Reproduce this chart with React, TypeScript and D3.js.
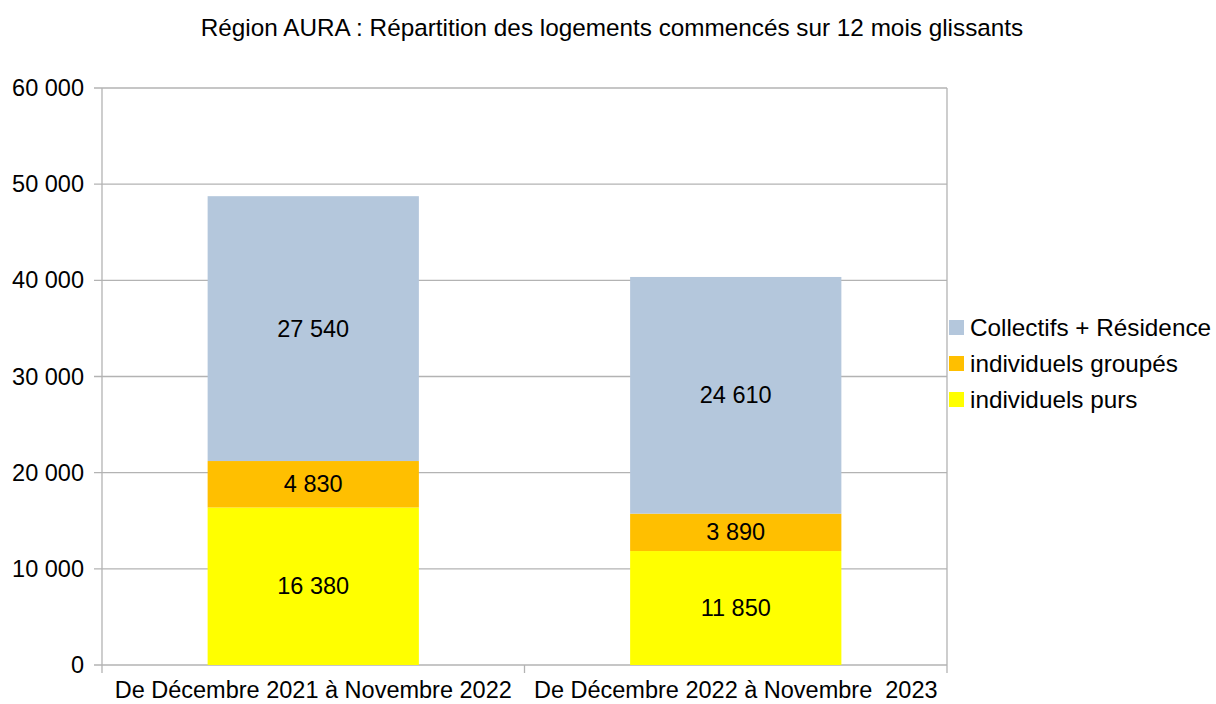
import React from "react";
import * as d3 from "d3";

const categories = ["De Décembre 2021 à Novembre 2022", "De Décembre 2022 à Novembre  2023"];
const seriesNames = ["individuels purs", "individuels groupés", "Collectifs + Résidence"];
const individuelsPurs = [16380, 11850];
const individuelsGroupes = [4830, 3890];
const collectifs = [27540, 24610];
const colors = ["#FFFF00", "#FFBF00", "#B4C7DC"];
const yTicks = [0, 10000, 20000, 30000, 40000, 50000, 60000];
const title = "Région AURA : Répartition des logements commencés sur 12 mois glissants";

const W = 1216, H = 704;
const left = 102, right = 947, top = 88, bottom = 665;
const font = "'Liberation Sans', Arial, sans-serif";
const fs = 23.5;

const fmt = (v: number) => d3.format(",")(v).replace(/,/g, " ");

export default function App() {
  const x = d3.scaleBand().domain(categories).range([left, right]).paddingInner(0.5).paddingOuter(0.25);
  const y = d3.scaleLinear().domain([0, 60000]).range([bottom, top]);
  const rows = categories.map((c, i) => ({ cat: c, s0: individuelsPurs[i], s1: individuelsGroupes[i], s2: collectifs[i] }));
  const stack = d3.stack<any>().keys(["s0", "s1", "s2"])(rows);
  const step = (right - left) / categories.length;
  const legendY = [328, 364, 400];
  const legendOrder = [2, 1, 0];

  return (
    <svg width={W} height={H} style={{ position: "absolute", left: 0, top: 0, background: "#fff" }} fontFamily={font}>
      <rect x={0} y={0} width={W} height={H} fill="#fff" />
      <text x={612} y={36} textAnchor="middle" fontSize={24.3} fill="#000">{title}</text>
      {yTicks.map((t) => (
        <g key={t}>
          <line x1={left - 8} x2={right} y1={y(t)} y2={y(t)} stroke="#B3B3B3" strokeWidth={1.3} />
          <text x={left - 18} y={y(t) + 8} textAnchor="end" fontSize={fs} fill="#000">{fmt(t)}</text>
        </g>
      ))}
      <line x1={left} x2={left} y1={top} y2={bottom + 8} stroke="#B3B3B3" strokeWidth={1.3} />
      <line x1={right} x2={right} y1={top} y2={bottom + 8} stroke="#B3B3B3" strokeWidth={1.3} />
      <line x1={left + step} x2={left + step} y1={bottom} y2={bottom + 8} stroke="#B3B3B3" strokeWidth={1.3} />
      {stack.map((layer, si) => (
        <g key={si}>
          {layer.map((d, i) => {
            const bx = x(categories[i])!;
            const y0 = y(d[0]), y1 = y(d[1]);
            return (
              <g key={i}>
                <rect x={bx} y={y1} width={x.bandwidth()} height={y0 - y1} fill={colors[si]} />
                <text x={bx + x.bandwidth() / 2} y={(y0 + y1) / 2 + 8} textAnchor="middle" fontSize={fs} fill="#000">
                  {fmt(d[1] - d[0])}
                </text>
              </g>
            );
          })}
        </g>
      ))}
      {categories.map((c) => (
        <text key={c} x={x(c)! + x.bandwidth() / 2} y={698} textAnchor="middle" fontSize={fs} fill="#000" style={{ whiteSpace: "pre" }}>
          {c}
        </text>
      ))}
      {legendOrder.map((si, k) => (
        <g key={si}>
          <rect x={949} y={legendY[k] - 8} width={15} height={15} fill={colors[si]} />
          <text x={970} y={legendY[k] + 8} fontSize={24.3} fill="#000">{seriesNames[si]}</text>
        </g>
      ))}
    </svg>
  );
}
